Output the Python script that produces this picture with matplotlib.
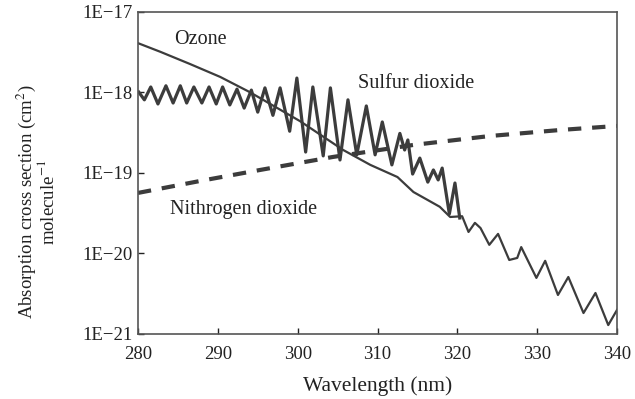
import matplotlib
matplotlib.use("Agg")
import matplotlib.pyplot as plt

plt.rcParams['font.family'] = ['Liberation Serif', 'DejaVu Serif']
plt.rcParams['mathtext.fontset'] = 'stix'

# Ozone absorption cross section (cm^2 molecule^-1)
ozone_nm = [280.0, 282.8, 286.5, 290.3, 294.0, 300.3, 305.7, 309.1, 312.5, 314.5,
            317.8, 319.1, 320.6, 321.4, 322.2, 322.9, 324.0, 325.1, 326.5, 327.5,
            328.0, 329.9, 331.0, 332.6, 333.9, 335.8, 337.3, 338.9, 340.0]
ozone_xs = [4.1e-18, 3.2e-18, 2.26e-18, 1.56e-18, 1.01e-18, 4.4e-19, 1.93e-19, 1.26e-19, 8.9e-20, 5.8e-20,
            3.8e-20, 2.84e-20, 2.9e-20, 1.85e-20, 2.4e-20, 2.07e-20, 1.28e-20, 1.75e-20, 8.3e-21, 8.8e-21,
            1.2e-20, 4.97e-21, 8.1e-21, 3.05e-21, 5.1e-21, 1.82e-21, 3.23e-21, 1.29e-21, 1.99e-21]

# Sulfur dioxide
so2_nm = [280.1, 280.8, 281.6, 282.5, 283.5, 284.4, 285.3, 286.1, 287.0, 288.0,
          288.9, 289.8, 290.6, 291.5, 292.4, 293.3, 294.2, 295.0, 295.9, 296.9,
          297.8, 299.0, 299.9, 301.0, 301.9, 303.2, 304.1, 305.3, 306.3, 307.4,
          308.6, 309.7, 310.6, 311.8, 312.8, 313.4, 313.8, 314.4, 315.3, 316.3,
          317.0, 317.6, 318.1, 319.0, 319.7, 320.3]
so2_xs = [1.01e-18, 8.1e-19, 1.17e-18, 7.2e-19, 1.21e-18, 7.4e-19, 1.21e-18, 7.4e-19, 1.17e-18, 7.4e-19,
          1.17e-18, 7.2e-19, 1.17e-18, 7.0e-19, 1.10e-18, 6.4e-19, 1.07e-18, 5.7e-19, 1.14e-18, 5.2e-19,
          1.14e-18, 3.3e-19, 1.51e-18, 1.82e-19, 1.17e-18, 1.63e-19, 1.14e-18, 1.45e-19, 8.1e-19, 1.68e-19,
          6.8e-19, 1.68e-19, 4.3e-19, 1.26e-19, 3.1e-19, 1.93e-19, 2.57e-19, 9.7e-20, 1.53e-19, 7.7e-20,
          1.09e-19, 8.2e-20, 1.15e-19, 3.1e-20, 7.5e-20, 2.76e-20]

# Nitrogen dioxide
no2_nm = [280.0, 287.8, 295.3, 304.4, 314.5, 324.1, 332.9, 340.0]
no2_xs = [5.65e-20, 7.96e-20, 1.09e-19, 1.58e-19, 2.23e-19, 2.88e-19, 3.42e-19, 3.84e-19]

x_ticks = [280, 290, 300, 310, 320, 330, 340]
y_ticks = [1e-21, 1e-20, 1e-19, 1e-18, 1e-17]
y_tick_labels = ['1E\u221221', '1E\u221220', '1E\u221219', '1E\u221218', '1E\u221217']

line_col = '#3c3c3c'
text_col = '#222222'

fig = plt.figure(figsize=(6.35, 3.99), dpi=100)
ax = fig.add_axes([0.2173, 0.163, 0.7544, 0.807])

ax.plot(ozone_nm, ozone_xs, color=line_col, lw=1.6, solid_joinstyle='round')
ax.plot(so2_nm, so2_xs, color=line_col, lw=2.3, solid_joinstyle='round')
ax.plot(no2_nm, no2_xs, color=line_col, lw=3.0, dashes=(3.2, 2.6))

ax.set_yscale('log')
ax.set_xlim(280, 340)
ax.set_ylim(1e-21, 1e-17)
ax.set_xticks(x_ticks)
ax.set_yticks(y_ticks)
ax.set_yticklabels(y_tick_labels)
ax.minorticks_off()
ax.tick_params(direction='in', length=4, width=1, labelsize=13.5, colors=text_col)
ax.tick_params(axis='x', pad=9)
ax.tick_params(axis='y', pad=4)
for s in ax.spines.values():
    s.set_color('#555555')
    s.set_linewidth(1.2)

ax.set_xlabel('Wavelength (nm)', fontsize=15.5, color=text_col, labelpad=9)
ax.set_ylabel('Absorption cross section (cm$^2$)\nmolecule$^{-1}$', fontsize=13.5,
              color=text_col, linespacing=0.9)
ax.yaxis.set_label_coords(-0.168, 0.41)

ax.text(287.8, 4.5e-18, 'Ozone', fontsize=14.5, ha='center', va='center', color=text_col)
ax.text(314.8, 1.28e-18, 'Sulfur dioxide', fontsize=14.5, ha='center', va='center', color=text_col)
ax.text(293.2, 3.47e-20, 'Nithrogen dioxide', fontsize=14.5, ha='center', va='center', color=text_col)

fig.savefig('out.png', dpi=100)
